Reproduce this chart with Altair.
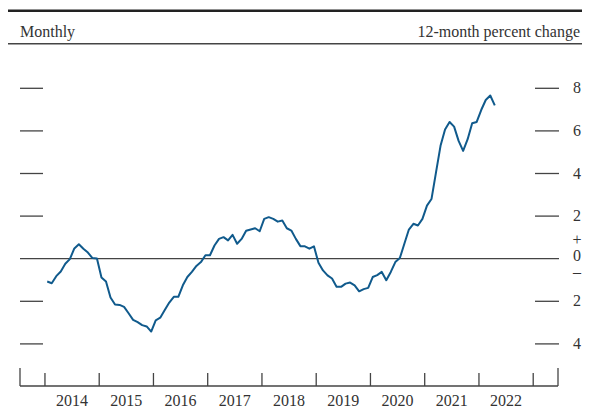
import altair as alt
import pandas as pd

# ---------------- data ----------------
start_month = "2014-01"
values = [
    -1.07, -1.15, -0.82, -0.60, -0.24, -0.02, 0.48, 0.68, 0.47, 0.29, 0.03, 0.01,
    -0.88, -1.07, -1.82, -2.15, -2.17, -2.26, -2.56, -2.87, -2.98, -3.12, -3.18, -3.42,
    -2.89, -2.77, -2.41, -2.06, -1.79, -1.79, -1.25, -0.86, -0.62, -0.34, -0.16, 0.16,
    0.16, 0.62, 0.93, 1.01, 0.86, 1.12, 0.70, 0.93, 1.31, 1.37, 1.43, 1.29,
    1.87, 1.95, 1.87, 1.74, 1.79, 1.43, 1.32, 0.93, 0.59, 0.58, 0.47, 0.58,
    -0.19, -0.55, -0.78, -0.93, -1.32, -1.32, -1.17, -1.12, -1.25, -1.53, -1.43, -1.37,
    -0.86, -0.77, -0.62, -1.01, -0.62, -0.16, 0.03, 0.70, 1.37, 1.64, 1.56, 1.87,
    2.49, 2.80, 4.05, 5.30, 6.07, 6.42, 6.20, 5.53, 5.06, 5.61, 6.36, 6.42,
    6.98, 7.45, 7.66, 7.20,
]
tick_years = [2014, 2015, 2016, 2017, 2018, 2019, 2020, 2021, 2022, 2023]
year_labels = ["2014", "2015", "2016", "2017", "2018", "2019", "2020", "2021", "2022"]
tick_values = [8, 6, 4, 2, -2, -4]
label_values = [8, 6, 4, 2, -2, -4]
label_texts = ["8", "6", "4", "2", "2", "4"]
left_title = "Monthly"
right_title = "12-month percent change"

months = pd.period_range(start_month, periods=len(values), freq="M")
df = pd.DataFrame({"t": [p.year + (p.month - 0.5) / 12 for p in months], "v": values})
ticks_df = pd.DataFrame({"v": tick_values})
labels_df = pd.DataFrame({"v": label_values, "lab": label_texts})
years_df = pd.DataFrame({"t": tick_years})
ylab_df = pd.DataFrame({"t": [int(y) + 0.5 for y in year_labels], "lab": year_labels})
one = pd.DataFrame({"a": [0]})

# ---------------- layout ----------------
W, H = 538, 376
X_DOM = [2013.54, 2013.54 + W / 54.25]
Y_DOM = [(248.7 - H) / 21.3, 248.7 / 21.3]
xs = alt.Scale(domain=X_DOM, nice=False, zero=False)
ys = alt.Scale(domain=Y_DOM, nice=False, zero=False)
FONT = "Liberation Serif"
INK = "#333333"
FS = 16

line = alt.Chart(df).mark_line(color="#105a8c", strokeWidth=2, strokeJoin="round").encode(
    x=alt.X("t:Q", scale=xs, axis=None),
    y=alt.Y("v:Q", scale=ys, axis=None),
)

zero = alt.Chart(pd.DataFrame({"v": [0]})).mark_rule(color="#444444", strokeWidth=1.3).encode(
    y=alt.Y("v:Q", scale=ys, axis=None), x=alt.value(0), x2=alt.value(539)
)

lticks = alt.Chart(ticks_df).mark_rule(color="#444444", strokeWidth=1.3).encode(
    y=alt.Y("v:Q", scale=ys, axis=None), x=alt.value(0), x2=alt.value(23)
)
rticks = alt.Chart(ticks_df).mark_rule(color="#444444", strokeWidth=1.3).encode(
    y=alt.Y("v:Q", scale=ys, axis=None), x=alt.value(515), x2=alt.value(539)
)

rlabels = alt.Chart(labels_df).mark_text(font=FONT, fontSize=FS, color=INK, align="center", baseline="middle").encode(
    y=alt.Y("v:Q", scale=ys, axis=None), x=alt.value(557), text="lab:N"
)
zlabel = alt.Chart(pd.DataFrame({"v": [0], "lab": ["0"]})).mark_text(
    font=FONT, fontSize=FS, color=INK, align="center", baseline="middle", dy=-3
).encode(y=alt.Y("v:Q", scale=ys, axis=None), x=alt.value(557), text="lab:N")
plus = alt.Chart(one).mark_text(text="+", font=FONT, fontSize=FS, color=INK, align="center", baseline="middle").encode(
    x=alt.value(557), y=alt.value(230)
)
minus = alt.Chart(one).mark_text(text="\u2013", font=FONT, fontSize=FS, color=INK, align="center", baseline="middle").encode(
    x=alt.value(557), y=alt.value(262)
)

baxis = alt.Chart(one).mark_rule(color="#444444", strokeWidth=1.3).encode(
    x=alt.value(0), x2=alt.value(W), y=alt.value(H)
)
yticks = alt.Chart(years_df).mark_rule(color="#444444", strokeWidth=1.3).encode(
    x=alt.X("t:Q", scale=xs, axis=None), y=alt.value(363), y2=alt.value(H)
)
endticks = alt.Chart(pd.DataFrame({"t": X_DOM})).mark_rule(color="#444444", strokeWidth=1.3).encode(
    x=alt.X("t:Q", scale=xs, axis=None), y=alt.value(358), y2=alt.value(H)
)
ylabels = alt.Chart(ylab_df).mark_text(font=FONT, fontSize=FS, color=INK, align="center", baseline="alphabetic").encode(
    x=alt.X("t:Q", scale=xs, axis=None), y=alt.value(395.5), text="lab:N"
)

top_rule = alt.Chart(one).mark_rule(color="#222222", strokeWidth=2.5).encode(
    x=alt.value(-12), x2=alt.value(562), y=alt.value(0.8)
)
sub_rule = alt.Chart(one).mark_rule(color="#444444", strokeWidth=1.4).encode(
    x=alt.value(-12), x2=alt.value(562), y=alt.value(33.7)
)
ltitle = alt.Chart(one).mark_text(text=left_title, font=FONT, fontSize=FS, color=INK, align="left", baseline="alphabetic").encode(
    x=alt.value(0), y=alt.value(26.5)
)
rtitle = alt.Chart(one).mark_text(text=right_title, font=FONT, fontSize=FS, color=INK, align="right", baseline="alphabetic").encode(
    x=alt.value(560), y=alt.value(26.5)
)

chart = alt.layer(
    top_rule, sub_rule, ltitle, rtitle,
    zero, lticks, rticks, rlabels, zlabel, plus, minus,
    baxis, yticks, endticks, ylabels,
    line,
).properties(
    width=W, height=H,
    autosize=alt.AutoSizeParams(type="none"),
    padding={"left": 12, "top": 2, "right": 24, "bottom": 22},
).configure_view(stroke=None)

chart.save("out.html", embed_options={"renderer": "svg", "actions": False})
